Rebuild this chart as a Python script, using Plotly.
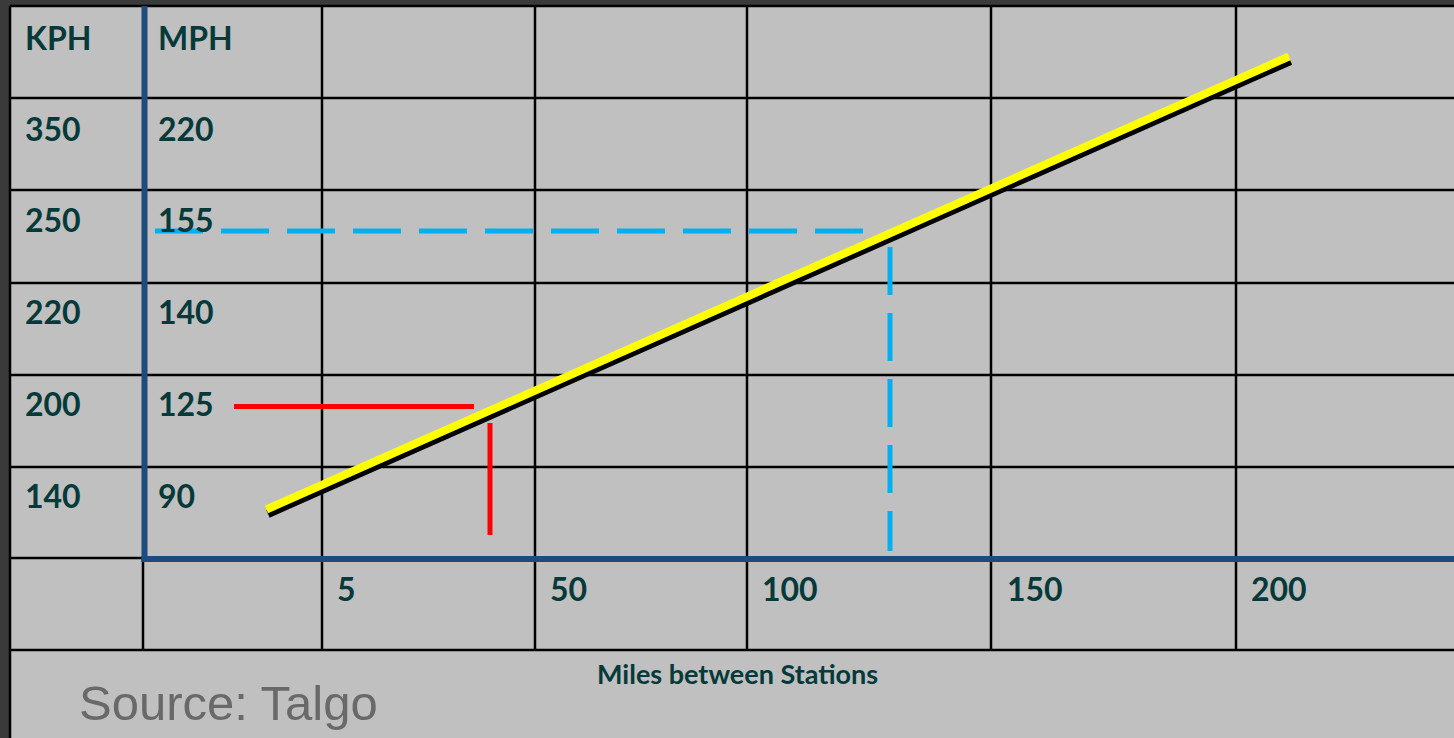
import plotly.graph_objects as go

# ---- data ----
kph_labels = ["350", "250", "220", "200", "140"]
mph_labels = ["220", "155", "140", "125", "90"]
mile_labels = ["5", "50", "100", "150", "200"]

# speed curve (chart canvas units)
speed_x = [266.5, 1289]
speed_y = [509.5, 56.5]
# blue dashed guide (155 mph)
blue_h_x = [155, 863]
blue_h_y = [231, 231]
blue_v_x = [890, 890]
blue_v_y = [247, 551]
# red guide (125 mph)
red_h_x = [234, 474]
red_h_y = [406.5, 406.5]
red_v_x = [490, 490]
red_v_y = [423, 535]

# ---- table layout ----
W, H = 1454, 738
col_edges = [143, 322, 535, 747, 991, 1236]
row_edges = [6, 98, 190, 283, 375, 467, 558, 650]
row_label_y = [128, 219, 311, 403, 495]
mile_label_x = [335, 548, 760, 1005, 1249]
TEXT = "#063a3a"
GRID = "#000000"
AXIS = "#1f4a7c"

fig = go.Figure()
shapes = []
shapes.append(dict(type="rect", x0=10, x1=W + 5, y0=6, y1=H + 5,
                   fillcolor="#c0c0c0", line=dict(width=0), layer="below"))
# horizontal grid lines
for r in row_edges:
    if r == 558:
        shapes.append(dict(type="line", x0=10, x1=143, y0=r, y1=r,
                           line=dict(color=GRID, width=2.5), layer="below"))
    else:
        shapes.append(dict(type="line", x0=10, x1=W + 5, y0=r, y1=r,
                           line=dict(color=GRID, width=2.5), layer="below"))
# left border
shapes.append(dict(type="line", x0=10, x1=10, y0=6, y1=H + 5,
                   line=dict(color=GRID, width=2.5), layer="below"))
# vertical grid lines
for c in col_edges:
    if c == 143:
        shapes.append(dict(type="line", x0=c, x1=c, y0=558, y1=650,
                           line=dict(color=GRID, width=2.5), layer="below"))
    else:
        shapes.append(dict(type="line", x0=c, x1=c, y0=6, y1=650,
                           line=dict(color=GRID, width=2.5), layer="below"))
# blue axes
shapes.append(dict(type="line", x0=144.5, x1=144.5, y0=6, y1=562,
                   line=dict(color=AXIS, width=6), layer="below"))
shapes.append(dict(type="line", x0=141.5, x1=W + 5, y0=559, y1=559,
                   line=dict(color=AXIS, width=6), layer="below"))

# speed line with shadow
fig.add_trace(go.Scatter(x=[v + 1.5 for v in speed_x], y=[v + 4.5 for v in speed_y],
                         mode="lines", line=dict(color="#000000", width=8),
                         hoverinfo="skip", showlegend=False))
fig.add_trace(go.Scatter(x=speed_x, y=speed_y, mode="lines",
                         line=dict(color="#ffff00", width=8),
                         hoverinfo="skip", showlegend=False))
# dashed guides
for xs, ys in [(blue_h_x, blue_h_y), (blue_v_x, blue_v_y)]:
    fig.add_trace(go.Scatter(x=xs, y=ys, mode="lines",
                             line=dict(color="#00b0f0", width=5, dash="48px,18px"),
                             hoverinfo="skip", showlegend=False))
for xs, ys in [(red_h_x, red_h_y), (red_v_x, red_v_y)]:
    fig.add_trace(go.Scatter(x=xs, y=ys, mode="lines",
                             line=dict(color="#ff0000", width=5),
                             hoverinfo="skip", showlegend=False))

anns = []
lab_font = dict(family="Lato", size=32, color=TEXT, weight="bold")
anns.append(dict(x=23, y=37, text="KPH", font=lab_font))
anns.append(dict(x=156, y=37, text="MPH", font=lab_font))
for k, m, yy in zip(kph_labels, mph_labels, row_label_y):
    anns.append(dict(x=23, y=yy, text=k, font=lab_font))
    anns.append(dict(x=156, y=yy, text=m, font=lab_font))
for lab, xx in zip(mile_labels, mile_label_x):
    anns.append(dict(x=xx, y=588, text=lab, font=lab_font))
for a in anns:
    a.update(xref="x", yref="y", xanchor="left", yanchor="middle", showarrow=False)
anns.append(dict(x=737, y=673, xref="x", yref="y", text="Miles between Stations",
                 showarrow=False, xanchor="center", yanchor="middle",
                 font=dict(family="Lato", size=27, color=TEXT, weight="bold")))
anns.append(dict(x=77, y=703, xref="x", yref="y", text="Source: Talgo",
                 showarrow=False, xanchor="left", yanchor="middle",
                 font=dict(family="Liberation Sans", size=49, color="#696969")))

fig.update_layout(
    width=W, height=H,
    margin=dict(l=0, r=0, t=0, b=0),
    paper_bgcolor="#3a3a3a", plot_bgcolor="#3a3a3a",
    shapes=shapes, annotations=anns,
    xaxis=dict(range=[0, W], visible=False, fixedrange=True),
    yaxis=dict(range=[H, 0], visible=False, fixedrange=True),
    showlegend=False,
)
fig.write_html(
    "out.html",
    config={"displayModeBar": False},
    post_script="document.body.style.margin='0';document.body.style.overflow='hidden';"
                "document.body.style.background='#3a3a3a';",
)
